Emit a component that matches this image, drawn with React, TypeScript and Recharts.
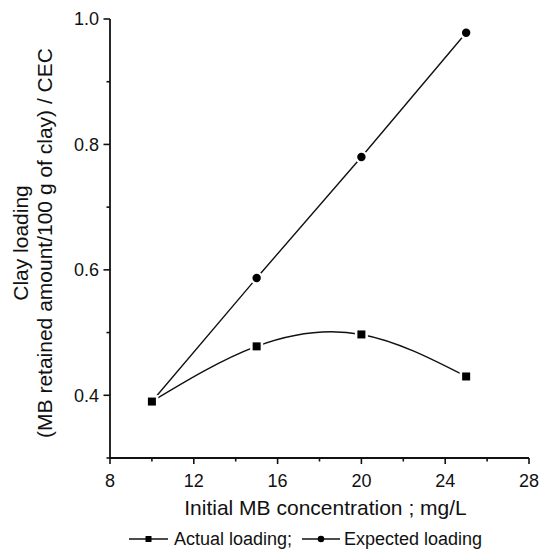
import React from 'react';
import { LineChart, Line, XAxis, YAxis, Legend } from 'recharts';

const concentrations = [10, 15, 20, 25];
const actualLoading = [0.39, 0.478, 0.497, 0.43];
const expectedLoading = [0.39, 0.587, 0.78, 0.978];
const xTicks = [8, 10, 12, 14, 16, 18, 20, 22, 24, 26, 28];
const xMajor = [8, 12, 16, 20, 24, 28];
const yTicks = [0.3, 0.4, 0.5, 0.6, 0.7, 0.8, 0.9, 1.0];
const yMajor = [0.4, 0.6, 0.8, 1.0];

const xTitle = 'Initial MB concentration ; mg/L';
const yTitle1 = 'Clay loading';
const yTitle2 = '(MB retained amount/100 g of clay) / CEC';
const actualName = 'Actual loading;';
const expectedName = 'Expected loading';

const data = concentrations.map((c, i) => ({
  c,
  actual: actualLoading[i],
  expected: expectedLoading[i],
}));

const FONT = '"Liberation Sans", Arial, Helvetica, sans-serif';
const INK = '#111';

const XTick = (props: any) => {
  const { x, y, payload } = props;
  const v = payload.value;
  const major = xMajor.includes(v);
  return (
    <g>
      <line x1={x} x2={x} y1={y} y2={y + (major ? 6 : 3.5)} stroke={INK} strokeWidth={1.6} />
      {major && (
        <text x={x} y={y + 29} textAnchor="middle" fontSize={18} fontFamily={FONT} fill={INK}>
          {v}
        </text>
      )}
    </g>
  );
};

const YTick = (props: any) => {
  const { x, y, payload } = props;
  const v = payload.value;
  const major = yMajor.some((m) => Math.abs(m - v) < 1e-9);
  return (
    <g>
      <line x1={x - (major ? 6.5 : 3.5)} x2={x} y1={y} y2={y} stroke={INK} strokeWidth={1.6} />
      {major && (
        <text x={x - 11} y={y} dy="0.36em" textAnchor="end" fontSize={18} fontFamily={FONT} fill={INK}>
          {v.toFixed(1)}
        </text>
      )}
    </g>
  );
};

const XTitle = (props: any) => {
  const vb = props.viewBox || {};
  const cx = vb.x + vb.width / 2 + 6;
  return (
    <text x={cx} y={vb.y + 57} textAnchor="middle" fontSize={21} fontFamily={FONT} fill={INK}>
      {xTitle}
    </text>
  );
};

const YTitle = () => {
  const cy = 243;
  return (
    <g>
      <text x={28} y={cy} transform={`rotate(-90, 28, ${cy})`} textAnchor="middle" fontSize={21} fontFamily={FONT} fill={INK}>
        {yTitle1}
      </text>
      <text x={52} y={cy} transform={`rotate(-90, 52, ${cy})`} textAnchor="middle" fontSize={21} fontFamily={FONT} fill={INK}>
        {yTitle2}
      </text>
    </g>
  );
};

const SquareDot = (props: any) => {
  const { cx, cy } = props;
  if (cx == null || cy == null) return null;
  return (
    <g>
      <rect x={cx - 6.5} y={cy - 6.5} width={13} height={13} fill="#fff" />
      <rect x={cx - 4} y={cy - 4} width={8} height={8} fill="#000" />
    </g>
  );
};

const CircleDot = (props: any) => {
  const { cx, cy } = props;
  if (cx == null || cy == null) return null;
  return (
    <g>
      <circle cx={cx} cy={cy} r={6.5} fill="#fff" />
      <circle cx={cx} cy={cy} r={4.2} fill="#000" />
    </g>
  );
};

const LegendContent = () => (
  <svg width={542} height={28} style={{ display: 'block' }}>
    <line x1={129} x2={168} y1={18} y2={18} stroke={INK} strokeWidth={1.4} />
    <rect x={145.5} y={15} width={6} height={6} fill="#000" />
    <text x={174} y={24} fontSize={18} fontFamily={FONT} fill={INK}>
      {actualName}
    </text>
    <line x1={302} x2={340} y1={18} y2={18} stroke={INK} strokeWidth={1.4} />
    <circle cx={321} cy={18} r={3.3} fill="#000" />
    <text x={344} y={24} fontSize={18} fontFamily={FONT} fill={INK}>
      {expectedName}
    </text>
  </svg>
);

export default function App() {
  return (
    <div style={{ position: 'absolute', left: 0, top: 0, background: '#fff' }}>
      <LineChart
        width={542}
        height={549}
        data={data}
        margin={{ top: 19, right: 13, left: 0, bottom: 0 }}
      >
        <XAxis
          dataKey="c"
          type="number"
          domain={[8, 28]}
          ticks={xTicks}
          interval={0}
          tickLine={false}
          tickSize={0}
          tickMargin={0}
          tick={<XTick />}
          axisLine={{ stroke: INK, strokeWidth: 1.8 }}
          height={63}
          label={<XTitle />}
        />
        <YAxis
          type="number"
          domain={[0.3, 1.0]}
          ticks={yTicks}
          interval={0}
          tickLine={false}
          tickSize={0}
          tickMargin={0}
          tick={<YTick />}
          axisLine={{ stroke: INK, strokeWidth: 1.8 }}
          width={110}
          label={<YTitle />}
        />
        <Legend
          verticalAlign="bottom"
          height={28}
          content={<LegendContent />}
          wrapperStyle={{ left: 0, bottom: 0, width: 542, height: 28 }}
        />
        <Line
          type="linear"
          dataKey="expected"
          name={expectedName}
          stroke={INK}
          strokeWidth={1.4}
          dot={<CircleDot />}
          activeDot={false}
          isAnimationActive={false}
        />
        <Line
          type="natural"
          dataKey="actual"
          name={actualName}
          stroke={INK}
          strokeWidth={1.4}
          dot={<SquareDot />}
          activeDot={false}
          isAnimationActive={false}
        />
      </LineChart>
    </div>
  );
}
